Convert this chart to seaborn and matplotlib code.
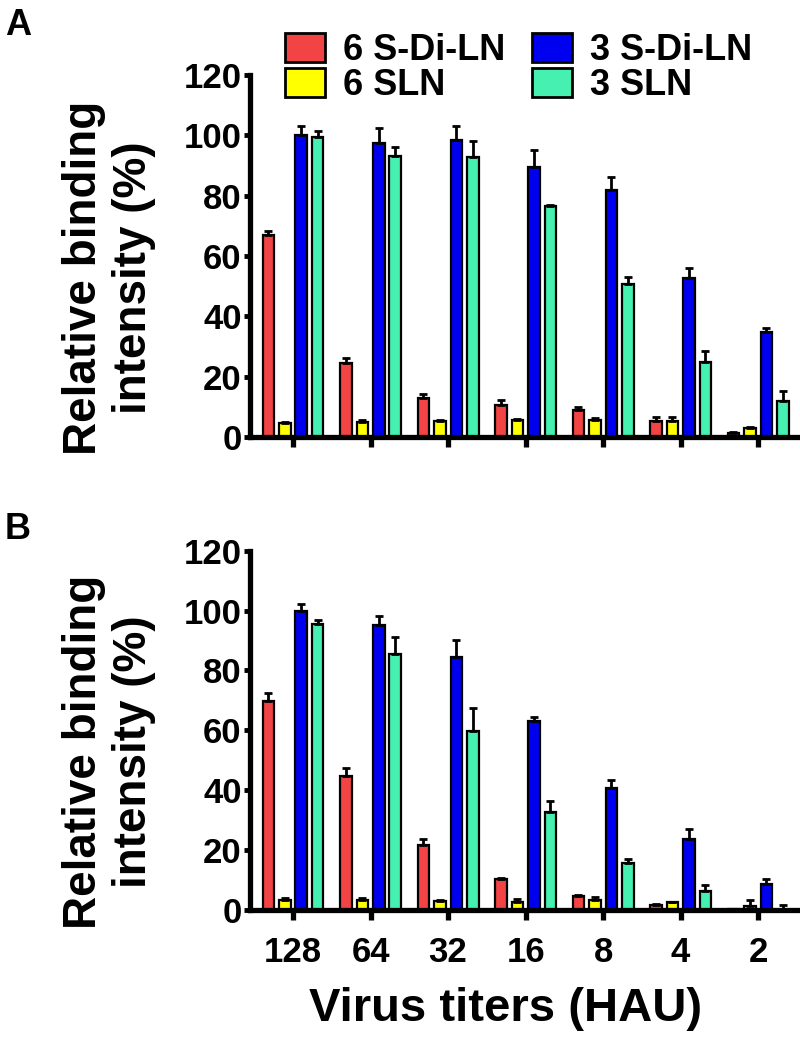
import numpy as np
import pandas as pd
import matplotlib.pyplot as plt
import seaborn as sns
from matplotlib.patches import Patch

# ---- data ----
titers = ["128", "64", "32", "16", "8", "4", "2"]
series = ["6 S-Di-LN", "6 SLN", "3 S-Di-LN", "3 SLN"]
colors = ["#F24444", "#FFFF00", "#0000F0", "#45F0B0"]

# panel A (mean, upper error)
a_6sdiln = [67.0, 24.5, 12.8, 10.5, 9.0, 5.2, 1.2]
a_6sdiln_err = [1.2, 1.7, 1.6, 1.9, 0.8, 1.4, 0.3]
a_6sln = [4.5, 5.0, 5.3, 5.5, 5.8, 5.3, 2.9]
a_6sln_err = [0.4, 0.6, 0.4, 0.5, 0.4, 1.4, 0.5]
a_3sdiln = [100.0, 97.3, 98.6, 89.6, 82.0, 52.6, 34.9]
a_3sdiln_err = [3.2, 5.0, 4.4, 5.7, 4.2, 3.4, 1.4]
a_3sln = [99.3, 93.0, 92.8, 76.5, 50.8, 24.8, 12.0]
a_3sln_err = [2.1, 3.2, 5.4, 0.3, 2.1, 3.6, 3.4]

# panel B
b_6sdiln = [69.8, 44.8, 21.7, 10.2, 4.6, 1.7, 0.3]
b_6sdiln_err = [2.7, 2.5, 2.1, 0.4, 0.5, 0.3, 0.1]
b_6sln = [3.3, 3.3, 3.0, 2.7, 3.4, 2.5, 1.4]
b_6sln_err = [0.6, 0.6, 0.3, 0.8, 0.8, 0.3, 2.0]
b_3sdiln = [99.7, 95.2, 84.6, 63.2, 40.6, 23.6, 8.6]
b_3sdiln_err = [2.6, 3.0, 5.6, 1.4, 2.9, 3.4, 1.8]
b_3sln = [95.4, 85.6, 59.8, 32.8, 15.7, 6.3, 0.0]
b_3sln_err = [1.5, 5.6, 7.6, 3.5, 1.2, 2.0, 1.7]

sns.set_style("ticks")
plt.rcParams["font.family"] = ["Liberation Sans", "DejaVu Sans"]
plt.rcParams["font.weight"] = "bold"
for k in ["text.color", "axes.labelcolor", "xtick.color", "ytick.color", "axes.edgecolor"]:
    plt.rcParams[k] = "black"


def make_df(vals):
    rows = []
    for s, v in zip(series, vals):
        for t, y in zip(titers, v):
            rows.append({"titer": t, "series": s, "value": y})
    return pd.DataFrame(rows)


def draw_panel(ax, vals, errs):
    df = make_df(vals)
    sns.barplot(data=df, x="titer", y="value", hue="series", order=titers,
                hue_order=series, palette=colors, width=0.85, gap=0.3,
                edgecolor="black", linewidth=1.6, errorbar=None, legend=False,
                saturation=1, ax=ax)
    # upper-only error bars at the bar centres
    for cont, v, e in zip(ax.containers, vals, errs):
        xs = [b.get_x() + b.get_width() / 2 for b in cont]
        ax.errorbar(xs, v, yerr=[np.zeros(len(e)), e], fmt="none",
                    ecolor="black", elinewidth=2, capsize=3, capthick=2, zorder=1)
    ax.set_ylim(0, 120)
    ax.set_xlim(-0.555, 6.54)
    ax.set_yticks(range(0, 121, 20))
    sns.despine(ax=ax)
    for sp in ["left", "bottom"]:
        ax.spines[sp].set_linewidth(3.8)
    ax.tick_params(axis="y", length=4, width=3.5, labelsize=25, pad=2)
    ax.tick_params(axis="x", length=7, width=3.8, labelsize=25, pad=12)
    ax.set_xlabel("")
    ax.set_ylabel("Relative binding\nintensity (%)", fontsize=33,
                  fontweight="bold")
    ax.yaxis.set_label_coords(-0.17, 0.44)


fig = plt.figure(figsize=(8, 10.39), dpi=100)
axA = fig.add_axes([0.3125, 0.5794, 0.6875, 0.3484])
axB = fig.add_axes([0.3125, 0.1242, 0.6875, 0.3458])

draw_panel(axA, [a_6sdiln, a_6sln, a_3sdiln, a_3sln],
           [a_6sdiln_err, a_6sln_err, a_3sdiln_err, a_3sln_err])
draw_panel(axB, [b_6sdiln, b_6sln, b_3sdiln, b_3sln],
           [b_6sdiln_err, b_6sln_err, b_3sdiln_err, b_3sln_err])

axA.tick_params(axis="x", labelbottom=False)
axB.set_xlabel("Virus titers (HAU)", fontsize=34, fontweight="bold")
axB.xaxis.set_label_coords(0.464, -0.215)

handles = [Patch(facecolor=c, edgecolor="black", linewidth=2, label=s)
           for s, c in zip(series, colors)]
axA.legend(handles=handles, ncol=2, loc="upper left",
           bbox_to_anchor=(0.356, 0.968), bbox_transform=fig.transFigure,
           frameon=False, fontsize=26, handlelength=1.1, handleheight=0.85,
           handletextpad=0.5, columnspacing=0.75, labelspacing=0.0,
           borderpad=0, borderaxespad=0)

fig.text(0.006, 0.992, "A", fontsize=26, fontweight="bold", va="top")
fig.text(0.006, 0.507, "B", fontsize=26, fontweight="bold", va="top")

fig.savefig("out.png", dpi=100)
